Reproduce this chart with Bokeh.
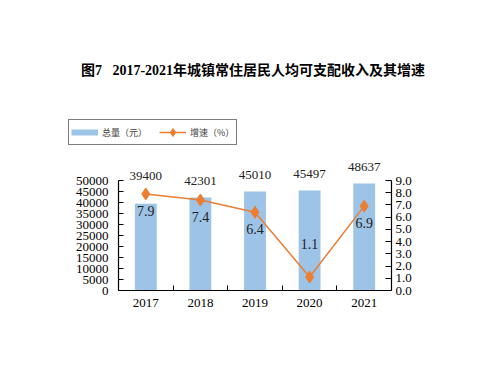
from bokeh.plotting import figure
from bokeh.layouts import column
from bokeh.models import (ColumnDataSource, LinearAxis, Range1d, FixedTicker,
                          LabelSet, Legend, LegendItem, NumeralTickFormatter)
from bokeh.core.properties import value
from bokeh.embed import file_html
from bokeh.resources import INLINE

# data
years = ["2017", "2018", "2019", "2020", "2021"]
income = [39400, 42301, 45010, 45497, 48637]      # 总量（元）
growth = [7.9, 7.4, 6.4, 1.1, 6.9]                # 增速（%）
income_ticks = list(range(0, 50001, 5000))
growth_ticks = list(range(0, 10))

# label placement (pixels)
income_label_offset = [28, 16, 16, 16, 16]
growth_label_offset = [-17, -17, -17, 33, -17]

SERIF = "Liberation Serif"
CJK = "Noto Sans CJK SC"
BAR_COLOR = "#9DC3E6"
LINE_COLOR = "#ED7D31"

W, H = 487, 376
HEAD_H = 155          # header strip: title + legend
AXIS_H = 110          # pixel height of the 0..50000 axis
BOTTOM = 86           # space under the plot frame

# ---------------- header: title and legend ----------------
head = figure(width=W, height=HEAD_H, output_backend="svg", toolbar_location=None,
              x_range=Range1d(0, W), y_range=Range1d(HEAD_H, 0),
              x_axis_type=None, y_axis_type=None, min_border=0)
head.frame_align = False
head.outline_line_color = None
head.grid.visible = False
head.text(x=[W / 2 + 9], y=[70],
          text=["图7\u00a0\u00a0\u00a02017-2021年城镇常住居民人均可支配收入及其增速"],
          text_align="center", text_baseline="middle",
          text_font=value(f"{SERIF}, {CJK}"), text_font_size="14px",
          text_font_style="bold", text_color="black")

# legend keys (parked off-canvas so only the key is drawn)
swatch = head.line(x=[-50, -40], y=[-50, -50], line_color=BAR_COLOR, line_width=6)
key_line = head.line(x=[-50, -40], y=[-50, -50], line_color=LINE_COLOR, line_width=1.5)
key_pts = head.scatter(x=[-50], y=[-50], marker="diamond", fill_color=LINE_COLOR,
                       line_color=LINE_COLOR)
legend = Legend(items=[LegendItem(label="总量（元）", renderers=[swatch]),
                       LegendItem(label="增速（%）", renderers=[key_line, key_pts])],
                orientation="horizontal", location=(68, HEAD_H - 145),
                glyph_width=27, glyph_height=20, label_standoff=4,
                spacing=12, padding=2, margin=0,
                label_text_font=CJK, label_text_font_size="9px",
                label_text_color="#404040",
                border_line_color="black", border_line_width=1,
                background_fill_alpha=0)
head.add_layout(legend, "center")

# ---------------- chart ----------------
xs = [i + 0.5 for i in range(len(years))]
src = ColumnDataSource(dict(
    x=xs, income=income, growth=growth,
    income_txt=[str(v) for v in income],
    growth_txt=[f"{v:.1f}" for v in growth],
    inc_off=income_label_offset, gr_off=growth_label_offset,
))

chart_h = H - HEAD_H
frame_h = chart_h - BOTTOM
scale = frame_h / AXIS_H      # frame reaches above the axis top to leave room for labels

p = figure(width=W, height=chart_h, output_backend="svg", toolbar_location=None,
           x_range=Range1d(0, len(years)),
           y_range=Range1d(0, max(income_ticks) * scale),
           min_border_left=118, min_border_right=96,
           min_border_top=0, min_border_bottom=BOTTOM)
p.frame_align = False
p.extra_y_ranges = {"rate": Range1d(0, max(growth_ticks) * scale)}
p.outline_line_color = None
p.grid.visible = False

bars = p.vbar(x="x", top="income", width=0.4, source=src,
              fill_color=BAR_COLOR, line_color=None)
line = p.line(x="x", y="growth", source=src, y_range_name="rate",
              line_color=LINE_COLOR, line_width=1.5)
pts = p.scatter(x="x", y="growth", source=src, y_range_name="rate",
                marker="diamond", size=12, fill_color=LINE_COLOR,
                line_color=LINE_COLOR)

# axes
p.xaxis.ticker = FixedTicker(ticks=xs, minor_ticks=list(range(1, len(years))))
p.xaxis.major_label_overrides = {x: y for x, y in zip(xs, years)}
p.xaxis.major_tick_in = 0
p.xaxis.major_tick_out = 0
p.xaxis.minor_tick_in = 5
p.xaxis.minor_tick_out = 0
p.xaxis.minor_tick_line_color = "black"
p.xaxis.major_label_standoff = 8

p.yaxis.ticker = FixedTicker(ticks=income_ticks)
p.yaxis.bounds = (0, max(income_ticks))
p.yaxis.major_tick_in = 5
p.yaxis.major_tick_out = 0
p.yaxis.minor_tick_line_color = None
p.yaxis.major_label_standoff = 10

right = LinearAxis(y_range_name="rate", ticker=FixedTicker(ticks=growth_ticks),
                   formatter=NumeralTickFormatter(format="0.0"),
                   bounds=(0, max(growth_ticks)))
right.major_tick_in = 6
right.major_tick_out = 0
right.minor_tick_line_color = None
right.major_label_standoff = 4
p.add_layout(right, "right")

for ax in p.axis:
    ax.axis_line_color = "black"
    ax.axis_line_width = 1.2
    ax.major_tick_line_color = "black"
    ax.major_label_text_font = SERIF
    ax.major_label_text_font_size = "13px"
    ax.major_label_text_color = "black"

# value labels
p.add_layout(LabelSet(x="x", y="income", text="income_txt", y_offset="inc_off",
                      source=src, text_align="center", text_baseline="middle",
                      text_font=SERIF, text_font_size="13px",
                      text_color="#222222"))
p.add_layout(LabelSet(x="x", y="growth", text="growth_txt", y_offset="gr_off",
                      y_range_name="rate", source=src, text_align="center",
                      text_baseline="middle", text_font=SERIF,
                      text_font_size="14px", text_color="#222222"))

layout = column(head, p, spacing=0)
open("out.html", "w").write(file_html(layout, INLINE))
